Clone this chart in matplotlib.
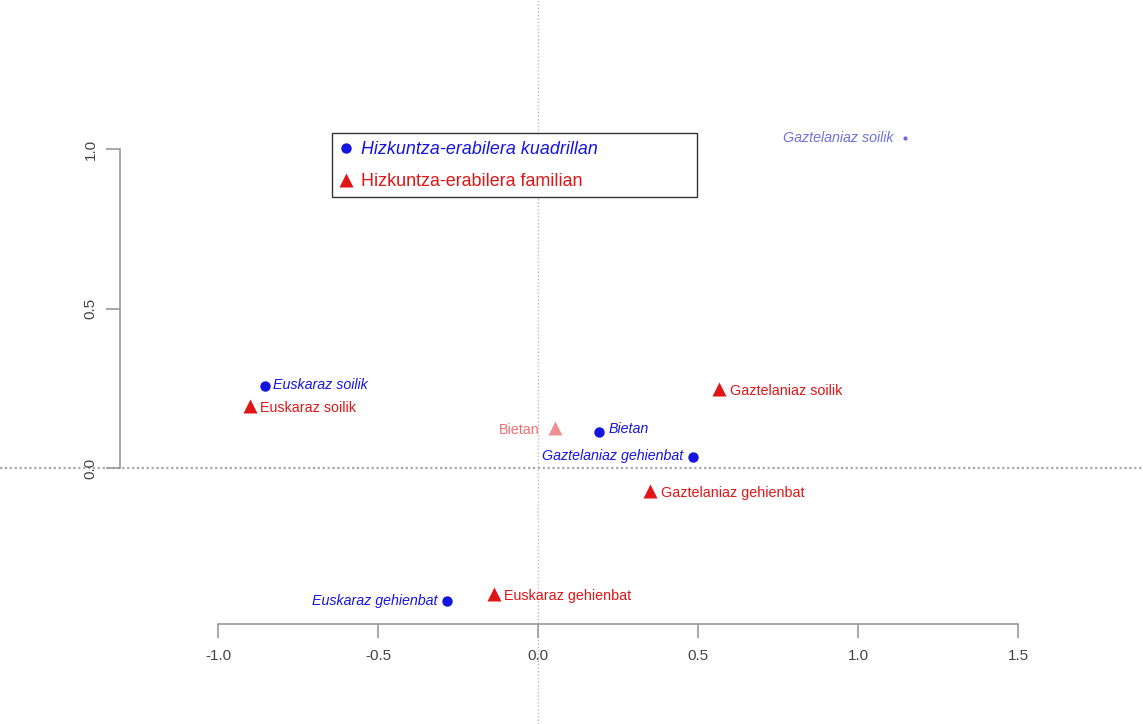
import matplotlib
matplotlib.use("Agg")
import matplotlib.pyplot as plt
from matplotlib.patches import Rectangle

plt.rcParams['font.family'] = ['Liberation Sans', 'DejaVu Sans']

# Data (correspondence analysis coordinates)
blue_labels = ["Gaztelaniaz soilik", "Euskaraz soilik", "Bietan",
               "Gaztelaniaz gehienbat", "Euskaraz gehienbat"]
blue_x = [1.147, -0.853, 0.190, 0.484, -0.284]
blue_y = [1.034, 0.257, 0.113, 0.034, -0.417]

red_labels = ["Euskaraz soilik", "Bietan", "Gaztelaniaz soilik",
              "Gaztelaniaz gehienbat", "Euskaraz gehienbat"]
red_x = [-0.900, 0.053, 0.566, 0.350, -0.138]
red_y = [0.194, 0.125, 0.248, -0.072, -0.395]

x_ticks = [-1.0, -0.5, 0.0, 0.5, 1.0, 1.5]
y_ticks = [0.0, 0.5, 1.0]
legend_labels = ["Hizkuntza-erabilera kuadrillan", "Hizkuntza-erabilera familian"]

BLUE = "#1515E0"
RED = "#E01515"

W, H = 1143, 724
fig = plt.figure(figsize=(W / 100, H / 100), dpi=100)
ax = fig.add_axes([0, 0, 1, 1])

# pixel mapping: px = 538 + 320*x ; py = 468 - 319*y
x0 = -538 / 320
x1 = (W - 538) / 320
y1 = 468 / 319
y0 = (468 - H) / 319
ax.set_xlim(x0, x1)
ax.set_ylim(y0, y1)

# reference lines
ax.axvline(0, color="#BBBBBB", lw=1.0, ls=(0, (1, 1.5)), zorder=1)
ax.axhline(0, color="#AAAAAA", lw=1.6, ls=(0, (1, 1.2)), zorder=1)

# points
sizes_b = [3, 7.5, 7.5, 7.5, 7.5]
for x, y, s in zip(blue_x, blue_y, sizes_b):
    ax.plot(x, y, "o", color=BLUE if s > 3 else "#6A6AE0", ms=s, mec="none", zorder=3)
for i, (x, y) in enumerate(zip(red_x, red_y)):
    col = "#F09090" if red_labels[i] == "Bietan" else RED
    ax.plot(x, y, "^", color=col, ms=10.5, mec="none", zorder=3)

# labels: (dx px, dy px, ha)
blue_pos = {"Gaztelaniaz soilik": (-12, 0, "right"), "Euskaraz soilik": (8, 1, "left"),
            "Bietan": (10, 3, "left"), "Gaztelaniaz gehienbat": (-10, 1, "right"),
            "Euskaraz gehienbat": (-10, 0, "right")}
red_pos = {"Euskaraz soilik": (10, -2, "left"), "Bietan": (-15, -2, "right"),
           "Gaztelaniaz soilik": (11, -2, "left"), "Gaztelaniaz gehienbat": (11, -2, "left"),
           "Euskaraz gehienbat": (10, -2, "left")}
for lab, x, y in zip(blue_labels, blue_x, blue_y):
    dx, dy, ha = blue_pos[lab]
    col = "#7070E0" if lab == "Gaztelaniaz soilik" else BLUE
    ax.annotate(lab, (x, y), xytext=(dx, dy), textcoords="offset pixels",
                ha=ha, va="center", fontsize=10.3, style="italic", color=col)
for lab, x, y in zip(red_labels, red_x, red_y):
    dx, dy, ha = red_pos[lab]
    col = "#F07070" if lab == "Bietan" else RED
    ax.annotate(lab, (x, y), xytext=(dx, dy), textcoords="offset pixels",
                ha=ha, va="center", fontsize=10.3, color=col)

# axes (R style)
for sp in ["top", "right"]:
    ax.spines[sp].set_visible(False)
ax.spines["bottom"].set_position(("data", (468 - 624) / 319))
ax.spines["bottom"].set_bounds(-1.0, 1.5)
ax.spines["left"].set_position(("data", (120 - 538) / 320))
ax.spines["left"].set_bounds(0.0, 1.0)
for sp in ["bottom", "left"]:
    ax.spines[sp].set_color("#999999")
    ax.spines[sp].set_linewidth(1.2)
ax.set_xticks(x_ticks)
ax.set_xticklabels([f"{v:.1f}" for v in x_ticks])
ax.set_yticks(y_ticks)
ax.set_yticklabels([f"{v:.1f}" for v in y_ticks], rotation=90, va="center")
ax.tick_params(axis="both", colors="#999999", labelcolor="#444444",
               labelsize=11, length=10, width=1.2)
ax.tick_params(axis="x", pad=8)
ax.tick_params(axis="y", pad=6)

# legend (drawn R-style: box with marker + text rows)
def px2data(px, py):
    return (px - 538) / 320, (468 - py) / 319

bx0, by0 = px2data(332, 197)
bx1, by1 = px2data(697, 133)
ax.add_patch(Rectangle((bx0, by0), bx1 - bx0, by1 - by0, fill=True, fc="white",
                       ec="#333333", lw=1.0, zorder=4))
leg_style = [("o", BLUE, 7.5, "italic", 148), ("^", RED, 10.5, "normal", 180)]
for lab, (mk, col, ms, st, py) in zip(legend_labels, leg_style):
    mx, my = px2data(346, py)
    ax.plot(mx, my, mk, color=col, ms=ms, mec="none", zorder=5)
    tx, ty = px2data(361, py + 2)
    ax.text(tx, ty, lab, ha="left", va="center", fontsize=12.9, style=st,
            color=col, zorder=5)

fig.savefig("out.png", dpi=100)
